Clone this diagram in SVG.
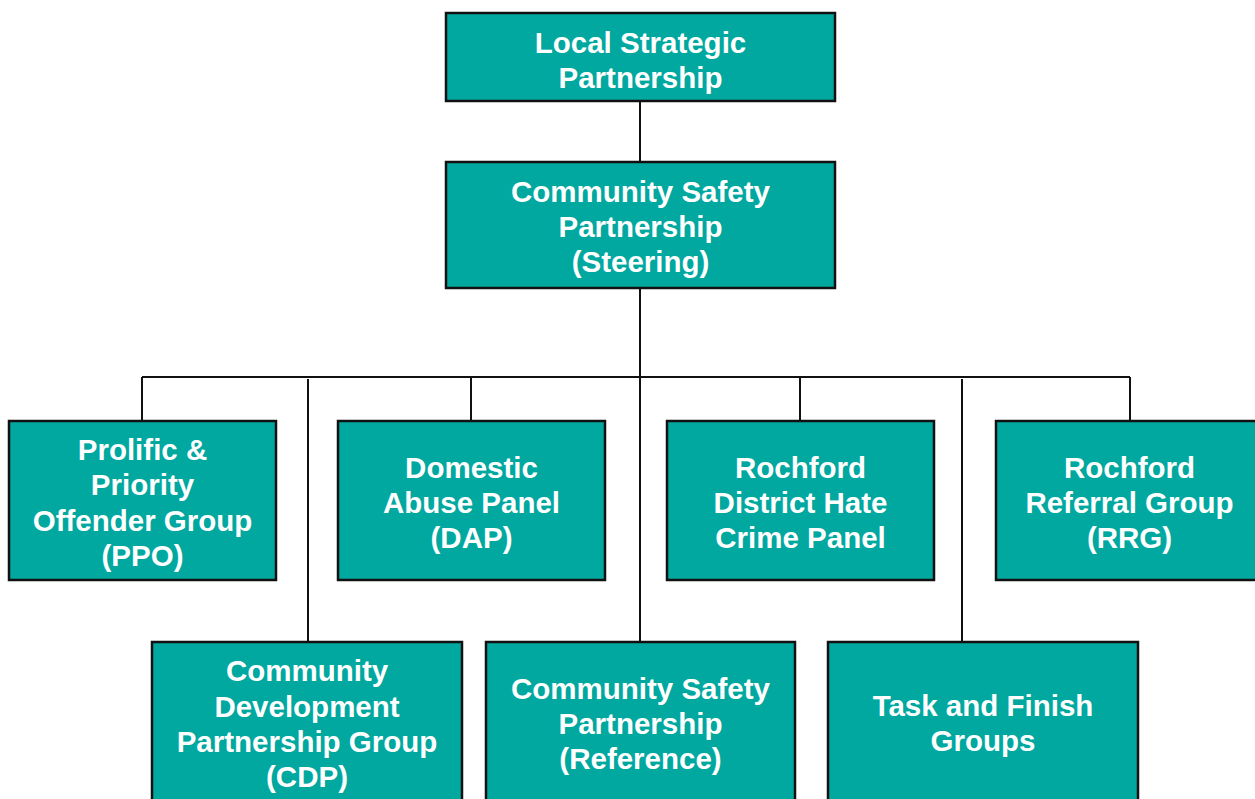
<svg xmlns="http://www.w3.org/2000/svg" width="1255" height="799" viewBox="0 0 1255 799">
<style>
.box{fill:#00A89F;stroke:#111;stroke-width:2.5}
.t{font-family:"Liberation Sans",Arial,sans-serif;font-weight:bold;font-size:29.5px;fill:#fff;text-anchor:middle}
.c{stroke:#111;stroke-width:2;fill:none}
</style>
<rect width="1255" height="799" fill="#fff"/>
<g id="connectors">
<line class="c" x1="640" y1="101" x2="640" y2="162"/>
<line class="c" x1="640" y1="288" x2="640" y2="642"/>
<line class="c" x1="142" y1="377" x2="1130" y2="377"/>
<line class="c" x1="142" y1="377" x2="142" y2="421"/>
<line class="c" x1="471" y1="377" x2="471" y2="421"/>
<line class="c" x1="800" y1="377" x2="800" y2="421"/>
<line class="c" x1="1130" y1="377" x2="1130" y2="421"/>
<line class="c" x1="308" y1="379" x2="308" y2="642"/>
<line class="c" x1="962" y1="379" x2="962" y2="642"/>
</g>
<g id="lsp">
<rect class="box" x="446" y="13" width="389" height="88"/>
<text class="t" x="640.5" y="53">Local Strategic</text>
<text class="t" x="640.5" y="88">Partnership</text>
</g>
<g id="csp-steering">
<rect class="box" x="446" y="162" width="389" height="126"/>
<text class="t" x="640.5" y="202">Community Safety</text>
<text class="t" x="640.5" y="237">Partnership</text>
<text class="t" x="640.5" y="272">(Steering)</text>
</g>
<g id="ppo">
<rect class="box" x="9" y="421" width="267" height="159"/>
<text class="t" x="142.5" y="460">Prolific &amp;</text>
<text class="t" x="142.5" y="495">Priority</text>
<text class="t" x="142.5" y="531">Offender Group</text>
<text class="t" x="142.5" y="566">(PPO)</text>
</g>
<g id="dap">
<rect class="box" x="338" y="421" width="267" height="159"/>
<text class="t" x="471.5" y="478">Domestic</text>
<text class="t" x="471.5" y="513">Abuse Panel</text>
<text class="t" x="471.5" y="548">(DAP)</text>
</g>
<g id="hate">
<rect class="box" x="667" y="421" width="267" height="159"/>
<text class="t" x="800.5" y="478">Rochford</text>
<text class="t" x="800.5" y="513">District Hate</text>
<text class="t" x="800.5" y="548">Crime Panel</text>
</g>
<g id="rrg">
<rect class="box" x="996" y="421" width="267" height="159"/>
<text class="t" x="1129.5" y="478">Rochford</text>
<text class="t" x="1129.5" y="513">Referral Group</text>
<text class="t" x="1129.5" y="548">(RRG)</text>
</g>
<g id="cdp">
<rect class="box" x="152" y="642" width="310" height="170"/>
<text class="t" x="307" y="681">Community</text>
<text class="t" x="307" y="717">Development</text>
<text class="t" x="307" y="752">Partnership Group</text>
<text class="t" x="307" y="787">(CDP)</text>
</g>
<g id="csp-reference">
<rect class="box" x="486" y="642" width="309" height="170"/>
<text class="t" x="640.5" y="699">Community Safety</text>
<text class="t" x="640.5" y="734">Partnership</text>
<text class="t" x="640.5" y="769">(Reference)</text>
</g>
<g id="task">
<rect class="box" x="828" y="642" width="310" height="170"/>
<text class="t" x="983" y="716">Task and Finish</text>
<text class="t" x="983" y="751">Groups</text>
</g>
</svg>
